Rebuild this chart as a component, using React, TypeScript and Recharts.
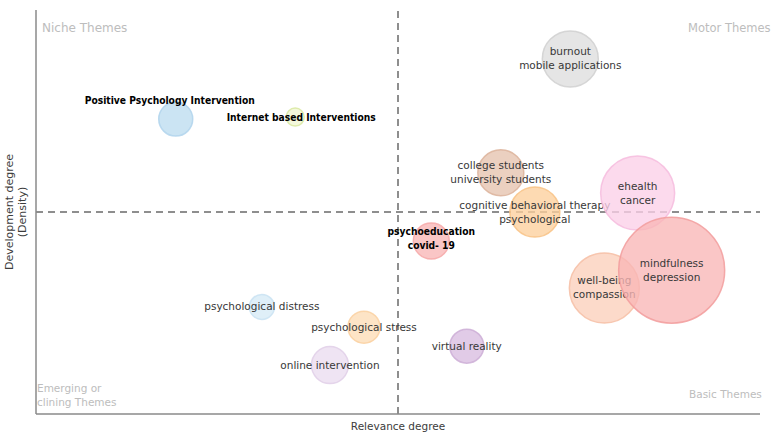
import React from 'react';
import {
  ScatterChart,
  Scatter,
  XAxis,
  YAxis,
  ZAxis,
  ReferenceLine,
  ReferenceArea,
} from 'recharts';

// themes, in drawing order
const themes = [
  'psychological distress',
  'online intervention',
  'psychological stress',
  'virtual reality',
  'Positive Psychology Intervention',
  'Internet based Interventions',
  'burnout\nmobile applications',
  'college students\nuniversity students',
  'cognitive behavioral therapy\npsychological',
  'psychoeducation\ncovid- 19',
  'ehealth\ncancer',
  'well-being\ncompassion',
  'mindfulness\ndepression',
];
const relevance = [31.2, 40.6, 45.3, 59.5, 19.3, 35.8, 73.8, 64.2, 68.9, 54.6, 83.1, 78.5, 87.8];
const density = [26.5, 12.1, 21.5, 16.8, 73.0, 73.5, 87.9, 59.7, 50.0, 42.8, 54.7, 31.2, 35.6];
const clusterSize = [156, 342, 256, 289, 289, 81, 784, 529, 625, 324, 1369, 1225, 2809];

const fills = [
  '#d6eaf6', '#eadcef', '#fddcb6', '#d8bce0', '#bcdcef', '#f1f6d2', '#dedede',
  '#e6c3ae', '#fcd09c', '#f9b6b6', '#fbd0e8', '#fbd0bb', '#f9b6b6',
];
const strokes = [
  '#c9e2f2', '#e0cfe8', '#fad0a0', '#ccaed6', '#b0d4ec', '#d8e8a0', '#d0d0d0',
  '#dcb39b', '#f8c285', '#f6a8a8', '#f6bcde', '#f6bea4', '#f29c9c',
];

// labels drawn with the hand-written looking font, and their nudges
const specialLabels: Record<string, { dx: number; dy: number }> = {
  'Positive Psychology Intervention': { dx: -6, dy: -19 },
  'Internet based Interventions': { dx: 6, dy: 0 },
  'psychoeducation\ncovid- 19': { dx: 0, dy: -3 },
};

const data = themes.map((t, i) => ({
  name: t,
  x: relevance[i],
  y: density[i],
  z: clusterSize[i],
  i,
}));

const Bubble = (props: any) => {
  const { cx, cy, size, width, payload } = props;
  const r = size != null ? Math.sqrt(size / Math.PI) : width / 2;
  const lines: string[] = payload.name.split('\n');
  const special = specialLabels[payload.name];
  const dx = special ? special.dx : 0;
  const dy = special ? special.dy : 0;
  const first = lines.length > 1 ? -3.5 : 3.5;
  return (
    <g>
      <circle
        cx={cx}
        cy={cy}
        r={r}
        fill={fills[payload.i]}
        fillOpacity={0.78}
        stroke={strokes[payload.i]}
        strokeOpacity={0.85}
        strokeWidth={1.5}
      />
      <text
        textAnchor="middle"
        fontFamily={special ? '"DejaVu Sans Condensed", "DejaVu Sans"' : '"DejaVu Sans"'}
        fontWeight={special ? 'bold' : 'normal'}
        fontSize={special ? 10.2 : 10.5}
        fill={special ? '#000' : '#383838'}
      >
        {lines.map((l, k) => (
          <tspan key={k} x={cx + dx} y={cy + dy + first + k * 14}>
            {l}
          </tspan>
        ))}
      </text>
    </g>
  );
};

const quadText = { fill: '#bdbdbd', fontFamily: '"DejaVu Sans"' };

export default function App() {
  return (
    <div style={{ position: 'absolute', left: 0, top: 0, background: '#fff' }}>
      <ScatterChart width={771} height={438} margin={{ top: 10, right: 11, left: 0, bottom: 0 }}>
        <XAxis
          type="number"
          dataKey="x"
          domain={[0, 100]}
          tick={false}
          tickLine={false}
          height={24}
          axisLine={{ stroke: '#8a8a8a', strokeWidth: 1.5 }}
          label={(p: any) => (
            <text
              x={p.viewBox.x + p.viewBox.width / 2}
              y={p.viewBox.y + 16}
              textAnchor="middle"
              fontFamily='"DejaVu Sans"'
              fontSize={10.5}
              fill="#3c3c3c"
            >
              Relevance degree
            </text>
          )}
        />
        <YAxis
          type="number"
          dataKey="y"
          domain={[0, 100]}
          tick={false}
          tickLine={false}
          width={36}
          axisLine={{ stroke: '#8a8a8a', strokeWidth: 1.5 }}
          label={(p: any) => {
            const cy = p.viewBox.y + p.viewBox.height / 2;
            return (
              <text
                transform={`rotate(-90, 0, ${cy})`}
                textAnchor="middle"
                fontFamily='"DejaVu Sans"'
                fontSize={11}
                fill="#3c3c3c"
              >
                <tspan x={0} y={cy + 13}>Development degree</tspan>
                <tspan x={0} y={cy + 26}>(Density)</tspan>
              </text>
            );
          }}
        />
        <ZAxis type="number" dataKey="z" domain={[0, 3000]} range={[0, 3000 * Math.PI]} />
        <ReferenceArea
          x1={0}
          x2={50}
          y1={50}
          y2={100}
          fillOpacity={0}
          strokeOpacity={0}
          label={(p: any) => (
            <text x={p.viewBox.x + 6} y={p.viewBox.y + 22} fontSize={12} {...quadText}>
              Niche Themes
            </text>
          )}
        />
        <ReferenceArea
          x1={50}
          x2={100}
          y1={50}
          y2={100}
          fillOpacity={0}
          strokeOpacity={0}
          label={(p: any) => (
            <text x={p.viewBox.x + p.viewBox.width - 72} y={p.viewBox.y + 22} fontSize={11.5} {...quadText}>
              Motor Themes
            </text>
          )}
        />
        <ReferenceArea
          x1={0}
          x2={50}
          y1={0}
          y2={50}
          fillOpacity={0}
          strokeOpacity={0}
          label={(p: any) => (
            <text fontSize={10.5} {...quadText}>
              <tspan x={p.viewBox.x + 1} y={p.viewBox.y + p.viewBox.height - 22}>Emerging or</tspan>
              <tspan x={p.viewBox.x + 1} y={p.viewBox.y + p.viewBox.height - 8}>clining Themes</tspan>
            </text>
          )}
        />
        <ReferenceArea
          x1={50}
          x2={100}
          y1={0}
          y2={50}
          fillOpacity={0}
          strokeOpacity={0}
          label={(p: any) => (
            <text
              x={p.viewBox.x + p.viewBox.width - 71}
              y={p.viewBox.y + p.viewBox.height - 16}
              fontSize={10.5}
              {...quadText}
            >
              Basic Themes
            </text>
          )}
        />
        <Scatter data={data} shape={(p: any) => <Bubble {...p} />} isAnimationActive={false} />
        <ReferenceLine x={50} stroke="#6a6a6a" strokeWidth={1.5} strokeDasharray="7 5" />
        <ReferenceLine y={50} stroke="#6a6a6a" strokeWidth={1.5} strokeDasharray="7 5" />
      </ScatterChart>
    </div>
  );
}
